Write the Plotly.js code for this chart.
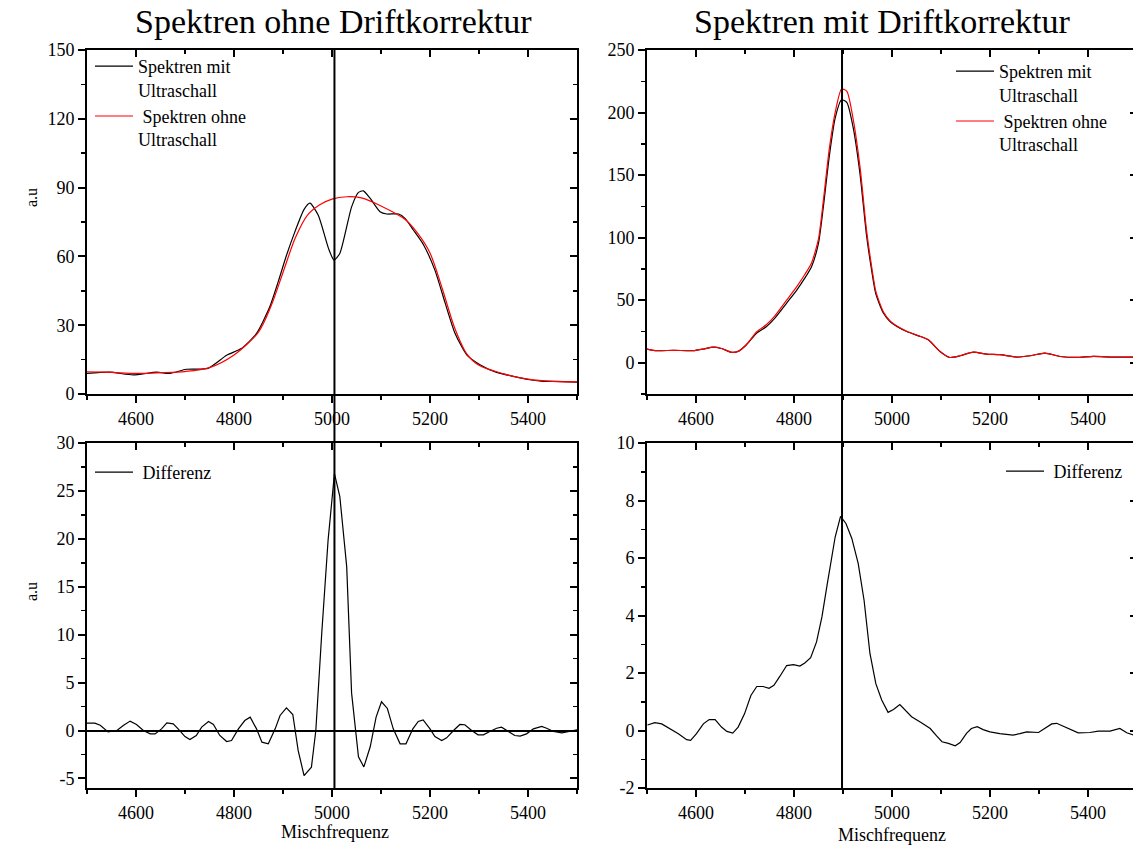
<!DOCTYPE html>
<html>
<head>
<meta charset="utf-8">
<script src="https://cdn.plot.ly/plotly-3.0.1.min.js"></script>
<style>html,body{margin:0;padding:0;overflow:hidden;background:#fff}</style>
</head>
<body>
<div id="plot" style="width:1145px;height:848px"></div>
<script>
// ---------- data ----------
const tlFreqMit = [4500,4547,4594,4642,4669,4703,4747,4785,4815,4846,4873,4890,4907,4924,4943,4955,4972,4993,5004,5016,5040,5054,5064,5078,5098,5112,5136,5149,5166,5187,5210,5231,5251,5275,5302,5336,5370,5404,5431,5459,5500];
const tlMit = [9.0,9.5,8.3,9.5,9.0,10.8,11.2,16.9,19.8,26.4,38,48.8,60.4,70.6,80.5,83.2,77.9,63.4,58.4,61.3,81.6,87.9,88.6,85.3,79.5,78.5,78.5,76.6,71.5,65,54,39.6,26.5,17.1,12.8,9.4,7.7,6.2,5.5,5.5,5.2];
const tlFreqOhne = [4500,4550,4600,4650,4700,4750,4800,4850,4875,4900,4925,4950,4975,5000,5030,5060,5100,5150,5175,5200,5225,5250,5275,5300,5350,5400,5450,5500];
const tlOhne = [9.7,9.4,9.0,9.3,9.8,11.5,17,27,38,53,68,78,82.5,85,86,85.5,82,76,70,61.5,46,29,17.5,12.5,8.8,6.5,5.5,5.3];

const trFreq = [4500,4520,4554,4594,4615,4635,4652,4673,4686,4703,4724,4744,4761,4785,4806,4822,4836,4850,4860,4872,4884,4897,4908,4921,4935,4948,4958,4967,4982,4996,5010,5030,5054,5074,5098,5118,5139,5166,5193,5220,5254,5282,5312,5343,5377,5411,5452,5500];
const trMit = [10.9,9.6,9.9,9.6,10.9,12.5,11.4,8.3,9.1,14.4,23.7,29,35.7,47.7,58.3,67.6,77,95.6,124.9,164.9,195.5,210.2,208,187.5,150,102,75,55,40,33,29,25,21.5,18.3,9,4.2,5.6,8.5,6.9,6.4,4.5,5.6,7.7,5.0,4.2,5.0,4.5,4.5];
const trOhne = [10.9,9.6,9.9,9.6,10.9,12.5,11.4,8.3,9.1,14.6,24.8,30.5,37.5,50,61,70.5,80,99,130,171,200,218.8,217,194.2,155.6,106,78,57,41,33.5,29.3,25.2,21.6,18.4,9,4.2,5.6,8.5,6.9,6.4,4.5,5.6,7.7,5.0,4.2,5.0,4.5,4.5];

const blFreq = [4500,4516,4527,4543,4561,4574,4588,4601,4615,4629,4639,4652,4663,4676,4686,4700,4710,4723,4734,4748,4758,4771,4785,4795,4809,4822,4833,4846,4857,4870,4884,4894,4907,4920,4931,4943,4958,4967,4979,4992,5005,5016,5030,5040,5054,5065,5078,5090,5101,5113,5125,5139,5151,5165,5176,5186,5200,5210,5224,5234,5248,5261,5271,5285,5298,5309,5322,5336,5346,5360,5373,5384,5397,5411,5428,5438,5452,5469,5482,5500];
const blDiff = [0.77,0.77,0.55,-0.15,0,0.52,0.98,0.63,0,-0.35,-0.35,0.17,0.8,0.7,0.17,-0.63,-0.94,-0.52,0.35,0.94,0.63,-0.52,-1.15,-1.04,0.17,1.04,1.39,0.17,-1.22,-1.39,0.17,1.57,2.37,1.67,-2.1,-4.7,-3.83,0,10.1,19.85,26.8,24.4,17.1,3.9,-2.75,-3.8,-1.7,1.4,3.0,2.3,0.17,-1.39,-1.39,0.17,0.94,1.1,0.17,-0.63,-1.04,-0.77,0,0.63,0.6,0,-0.45,-0.45,-0.1,0.24,0.35,-0.1,-0.52,-0.59,-0.35,0.17,0.42,0.24,-0.1,-0.24,-0.1,0.07];

const brFreq = [4501,4516,4530,4547,4564,4581,4589,4601,4615,4627,4639,4652,4663,4675,4686,4699,4712,4724,4737,4749,4759,4771,4785,4799,4812,4822,4834,4846,4857,4868,4884,4895,4906,4918,4931,4943,4955,4967,4979,4992,5003,5016,5027,5040,5060,5078,5091,5102,5115,5129,5139,5152,5162,5174,5186,5200,5220,5247,5261,5275,5299,5312,5326,5336,5357,5380,5404,5421,5445,5465,5479,5500];
const brDiff = [0.19,0.27,0.23,0.06,-0.11,-0.32,-0.34,-0.11,0.23,0.38,0.38,0.12,-0.03,-0.09,0.12,0.58,1.22,1.53,1.53,1.47,1.57,1.88,2.26,2.29,2.24,2.35,2.53,3.08,3.95,5.11,6.73,7.45,7.2,6.68,5.81,4.53,2.68,1.63,1.06,0.63,0.73,0.9,0.7,0.48,0.27,0.07,-0.19,-0.39,-0.45,-0.53,-0.42,-0.1,0.07,0.13,0.03,-0.05,-0.11,-0.16,-0.11,-0.05,-0.07,0.07,0.23,0.25,0.1,-0.08,-0.07,-0.02,-0.02,0.07,-0.08,-0.2];

const centerLines = [5005, 4898];
const blYTicks = [-5, 0, 5, 10, 15, 20, 25, 30];
const blYText = ['-5', '0', '5', '10', '15', '20', '25', '30'];
const brYTicks = [-2, 0, 2, 4, 6, 8, 10];
const brYText = ['-2', '0', '2', '4', '6', '8', '10'];
const titles = ['Spektren ohne Driftkorrektur', 'Spektren mit Driftkorrektur'];
const nameMit = 'Spektren mit<br>Ultraschall';
const nameOhne = '&nbsp;Spektren ohne<br>Ultraschall';
const nameDiff = '&nbsp;Differenz';
const xLabel = 'Mischfrequenz';
const yLabel = 'a.u';

// ---------- layout geometry (pixels) ----------
const W = 1145, H = 848;
const fx = p => p / W, fy = p => (H - p) / H;
const colL = [fx(87), fx(577)], colR = [fx(647), fx(1137)];
const rowT = [fy(394), fy(50)], rowB = [fy(788), fy(443)];

const FONT = 'Liberation Serif, Times New Roman, serif';
const tickFont = {family: FONT, size: 18, color: '#000'};

function xAx(domain, anchor) {
  return {domain, anchor, range: [4500, 5500], tick0: 4600, dtick: 200,
    ticks: 'outside', ticklen: 7, tickwidth: 2, tickcolor: '#000',
    showline: true, linewidth: 2, linecolor: '#000', showgrid: false, zeroline: false,
    tickfont: tickFont, minor: {tick0: 4500, dtick: 100, ticks: 'outside', ticklen: 4, tickwidth: 1.5, tickcolor: '#000', showgrid: false}};
}
function xTop(over, anchor) {
  return {overlaying: over, anchor, side: 'top', range: [4500, 5500], tick0: 4600, dtick: 200,
    ticks: 'inside', ticklen: 7, tickwidth: 2, tickcolor: '#000', showticklabels: false,
    showline: true, linewidth: 2, linecolor: '#000', showgrid: false, zeroline: false,
    minor: {tick0: 4500, dtick: 100, ticks: 'inside', ticklen: 4, tickwidth: 1.5, tickcolor: '#000', showgrid: false}};
}
function yAx(domain, anchor, range, dtick, mdtick, zl, tv, tt) {
  const a = {domain, anchor, range, tick0: 0, dtick, ticks: 'outside', ticklen: 7, tickwidth: 2, tickcolor: '#000',
    showline: true, linewidth: 2, linecolor: '#000', showgrid: false,
    zeroline: !!zl, zerolinewidth: 2, zerolinecolor: '#000', tickfont: tickFont,
    minor: {tick0: 0, dtick: mdtick, ticks: 'outside', ticklen: 4, tickwidth: 1.5, tickcolor: '#000', showgrid: false}};
  if (tv) { a.tickmode = 'array'; a.tickvals = tv; a.ticktext = tt; }
  return a;
}
function yRight(over, anchor, range, dtick, mdtick) {
  return {overlaying: over, anchor, side: 'right', range, tick0: 0, dtick, ticks: 'inside', ticklen: 7, tickwidth: 2, tickcolor: '#000',
    showticklabels: false, showline: true, linewidth: 2, linecolor: '#000', showgrid: false, zeroline: false,
    minor: {tick0: 0, dtick: mdtick, ticks: 'inside', ticklen: 4, tickwidth: 1.5, tickcolor: '#000', showgrid: false}};
}

const blk = {color: '#000', width: 1.2};
const red = {color: '#ff0000', width: 1.2};

const traces = [
  {x: tlFreqMit, y: tlMit, xaxis: 'x', yaxis: 'y', mode: 'lines', name: nameMit, line: Object.assign({shape: 'spline', smoothing: 0.6}, blk), legend: 'legend'},
  {x: tlFreqOhne, y: tlOhne, xaxis: 'x', yaxis: 'y', mode: 'lines', name: nameOhne, line: Object.assign({shape: 'spline', smoothing: 0.8}, red), legend: 'legend'},
  {x: trFreq, y: trMit, xaxis: 'x2', yaxis: 'y2', mode: 'lines', name: nameMit, line: Object.assign({shape: 'spline', smoothing: 0.6}, blk), legend: 'legend2'},
  {x: trFreq, y: trOhne, xaxis: 'x2', yaxis: 'y2', mode: 'lines', name: nameOhne, line: Object.assign({shape: 'spline', smoothing: 0.6}, red), legend: 'legend2'},
  {x: blFreq, y: blDiff, xaxis: 'x3', yaxis: 'y3', mode: 'lines', name: nameDiff, line: blk, legend: 'legend3'},
  {x: brFreq, y: brDiff, xaxis: 'x4', yaxis: 'y4', mode: 'lines', name: nameDiff, line: blk, legend: 'legend4'}
];
// empty traces so that the mirror (top/right) axes exist
[['x5','y'],['x','y5'],['x6','y2'],['x2','y6'],['x7','y3'],['x3','y7'],['x8','y4'],['x4','y8']].forEach(p => {
  traces.push({x: [], y: [], xaxis: p[0], yaxis: p[1], mode: 'lines', showlegend: false, hoverinfo: 'skip'});
});

const legFont = {family: FONT, size: 18, color: '#000'};
function leg(xp, yp) {
  return {x: fx(xp), y: fy(yp), xanchor: 'left', yanchor: 'top', bgcolor: 'rgba(0,0,0,0)',
    borderwidth: 0, font: legFont, valign: 'top', itemwidth: 38, tracegroupgap: 0};
}

const layout = {
  width: W, height: H, margin: {l: 0, r: 0, t: 0, b: 0},
  paper_bgcolor: '#fff', plot_bgcolor: 'rgba(0,0,0,0)', showlegend: true,
  font: {family: FONT, color: '#000'},
  xaxis: xAx(colL, 'y'), yaxis: yAx(rowT, 'x', [0, 150], 30, 15),
  xaxis2: xAx(colR, 'y2'), yaxis2: yAx(rowT, 'x2', [-25, 250], 50, 25),
  xaxis3: xAx(colL, 'y3'), yaxis3: yAx(rowB, 'x3', [-6, 30], 5, 2.5, true, blYTicks, blYText),
  xaxis4: xAx(colR, 'y4'), yaxis4: yAx(rowB, 'x4', [-2, 10], 2, 1, false, brYTicks, brYText),
  xaxis5: xTop('x', 'y'), yaxis5: yRight('y', 'x', [0, 150], 30, 15),
  xaxis6: xTop('x2', 'y2'), yaxis6: yRight('y2', 'x2', [-25, 250], 50, 25),
  xaxis7: xTop('x3', 'y3'), yaxis7: yRight('y3', 'x3', [-6, 30], 5, 2.5),
  xaxis8: xTop('x4', 'y4'), yaxis8: yRight('y4', 'x4', [-2, 10], 2, 1),
  legend: leg(90, 48),
  legend2: leg(951, 53),
  legend3: leg(90, 454),
  legend4: leg(1001, 453),
  shapes: [
    {type: 'line', xref: 'x', yref: 'paper', x0: centerLines[0], x1: centerLines[0], y0: rowB[0], y1: rowT[1], line: {color: '#000', width: 2}},
    {type: 'line', xref: 'x2', yref: 'paper', x0: centerLines[1], x1: centerLines[1], y0: rowB[0], y1: rowT[1], line: {color: '#000', width: 2}}
  ],
  annotations: [
    {text: titles[0], xref: 'paper', yref: 'paper', x: fx(333), y: fy(22), showarrow: false, xanchor: 'center', yanchor: 'middle', font: {family: FONT, size: 34, color: '#000'}},
    {text: titles[1], xref: 'paper', yref: 'paper', x: fx(882), y: fy(22), showarrow: false, xanchor: 'center', yanchor: 'middle', font: {family: FONT, size: 34, color: '#000'}},
    {text: yLabel, xref: 'paper', yref: 'paper', x: fx(31), y: fy(198), showarrow: false, textangle: -90, xanchor: 'center', yanchor: 'middle', font: {family: FONT, size: 16, color: '#000'}},
    {text: yLabel, xref: 'paper', yref: 'paper', x: fx(31), y: fy(592), showarrow: false, textangle: -90, xanchor: 'center', yanchor: 'middle', font: {family: FONT, size: 16, color: '#000'}},
    {text: xLabel, xref: 'paper', yref: 'paper', x: fx(335), y: fy(832), showarrow: false, xanchor: 'center', yanchor: 'middle', font: {family: FONT, size: 18, color: '#000'}},
    {text: xLabel, xref: 'paper', yref: 'paper', x: fx(892), y: fy(835), showarrow: false, xanchor: 'center', yanchor: 'middle', font: {family: FONT, size: 18, color: '#000'}}
  ]
};

Plotly.newPlot('plot', traces, layout, {staticPlot: true, displayModeBar: false});
</script>
</body>
</html>
